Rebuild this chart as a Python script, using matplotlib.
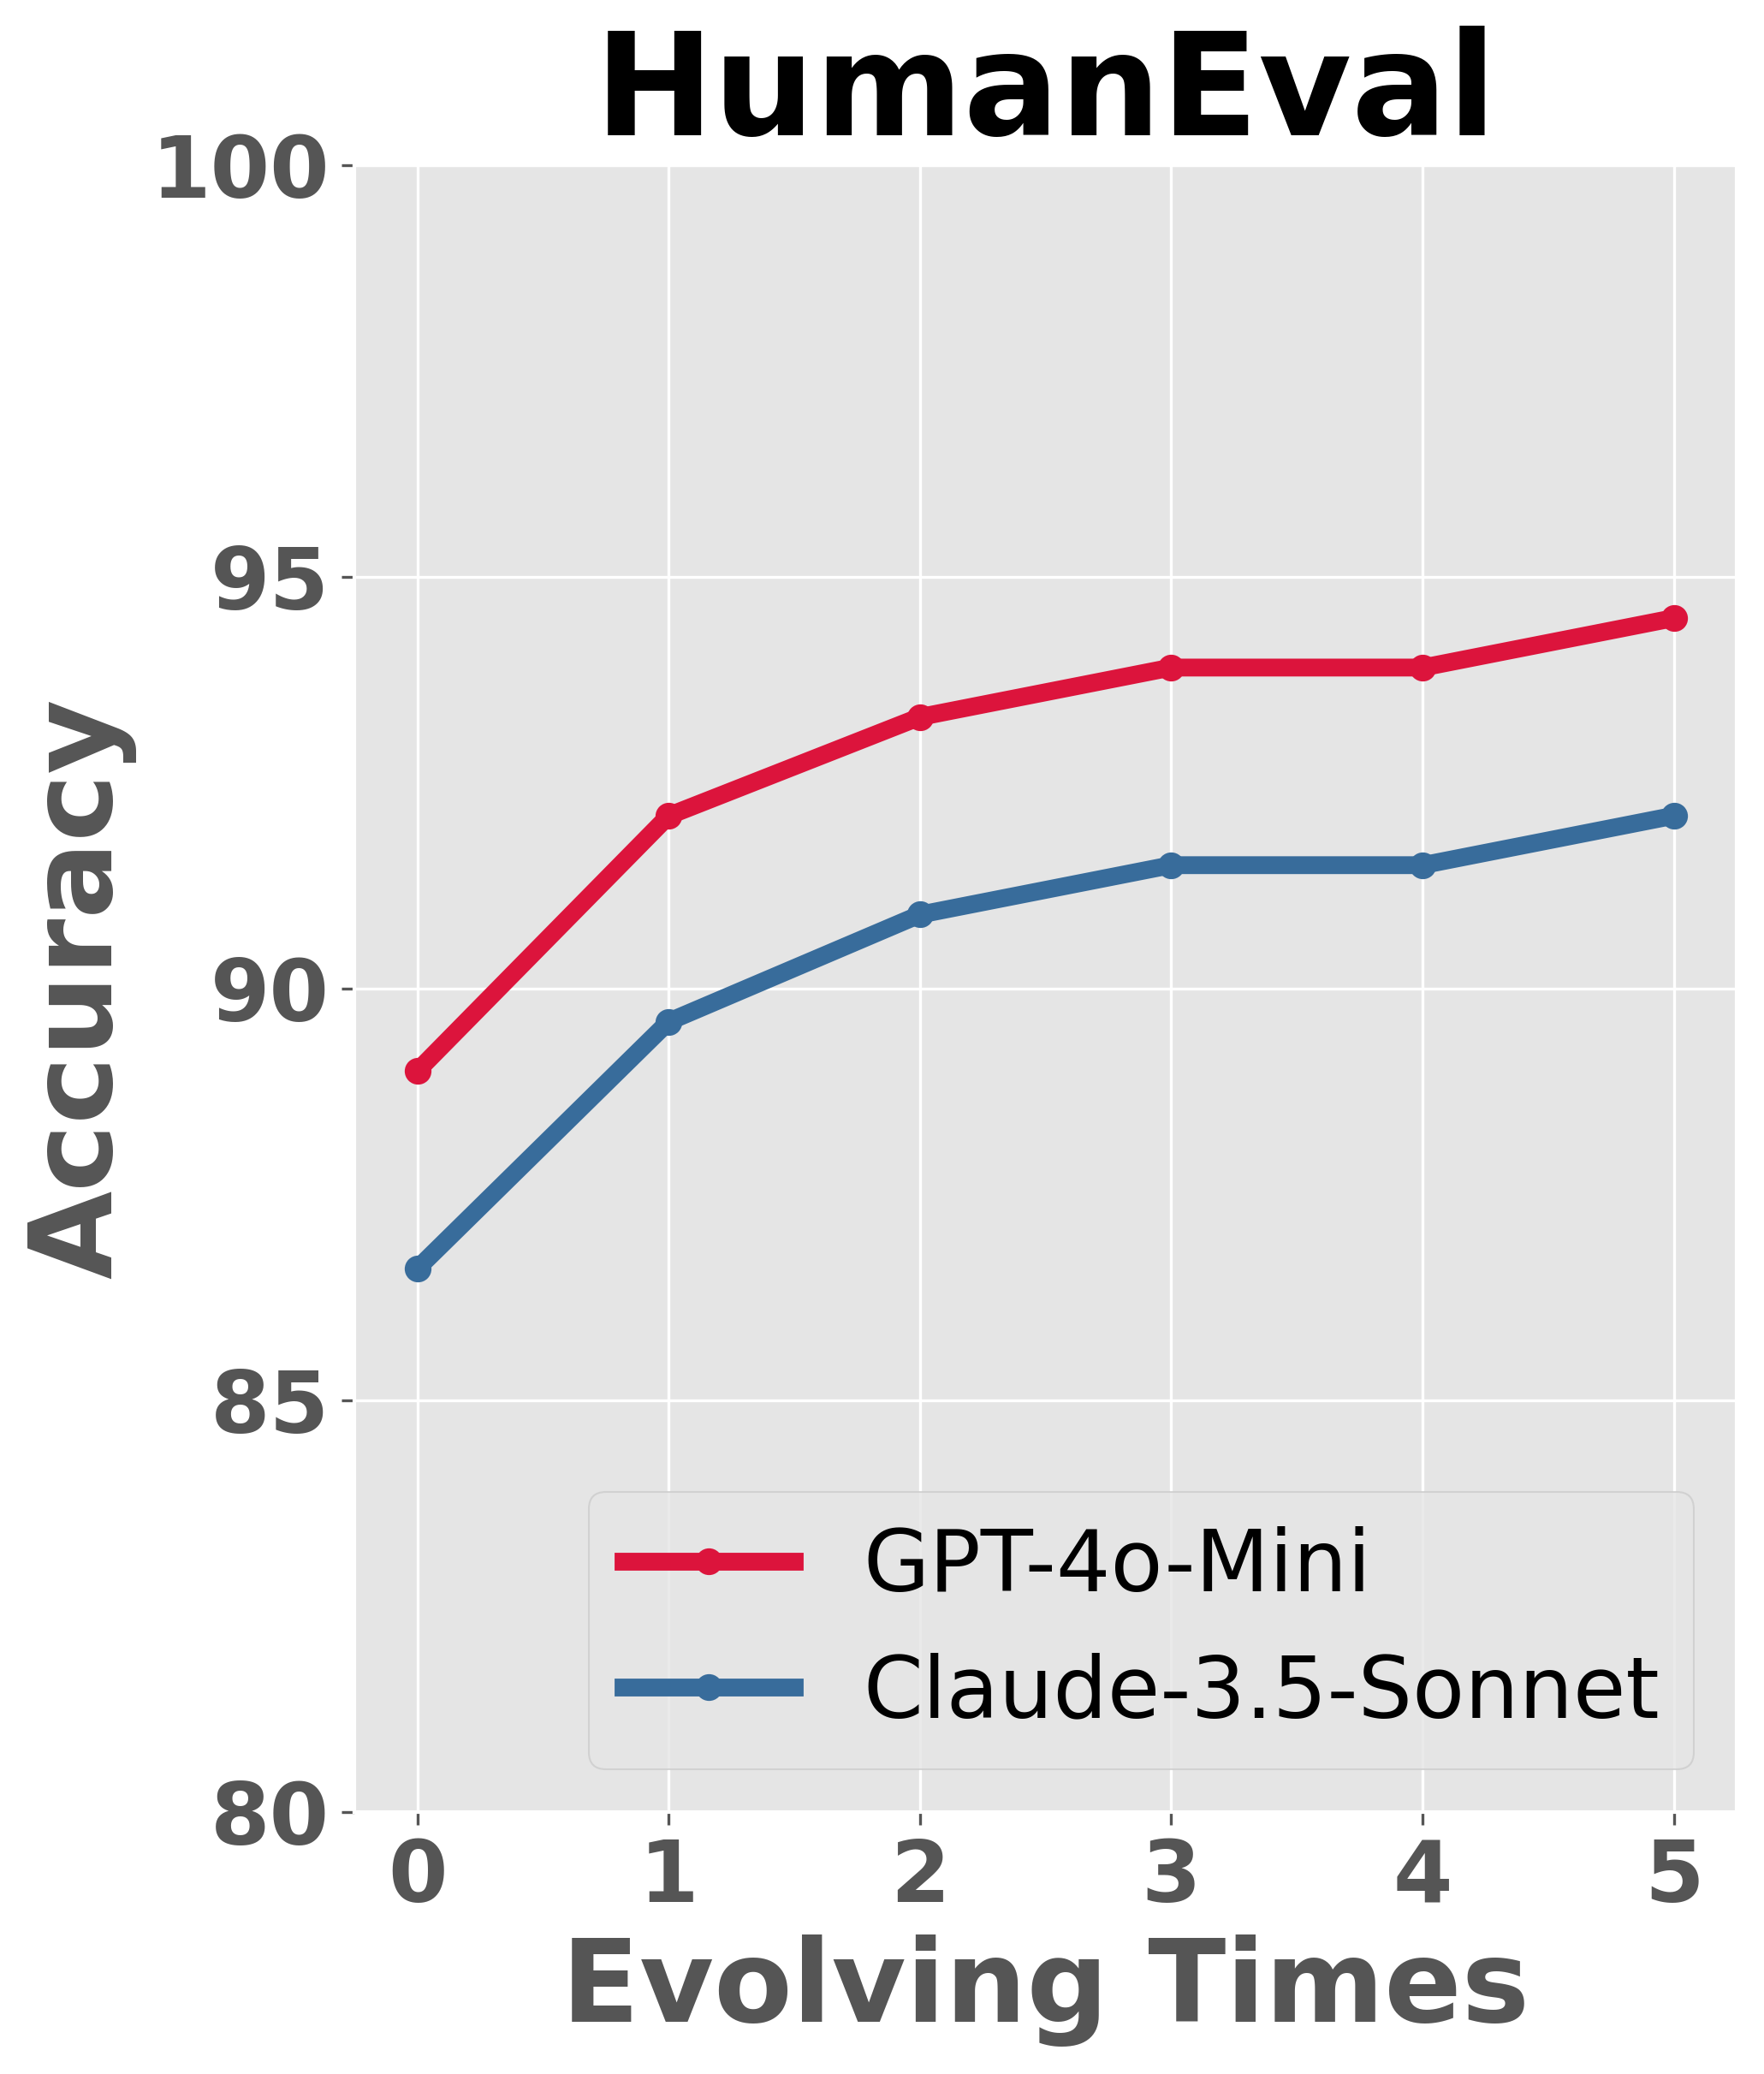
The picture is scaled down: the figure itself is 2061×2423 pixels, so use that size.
import matplotlib.pyplot as plt

plt.style.use("ggplot")

evolving_times = [0, 1, 2, 3, 4, 5]
gpt_4o_mini = [89.0, 92.1, 93.3, 93.9, 93.9, 94.5]
claude_35_sonnet = [86.6, 89.6, 90.9, 91.5, 91.5, 92.1]
y_ticks = [80, 85, 90, 95, 100]


def main():
    fig = plt.figure(figsize=(2061 / 300, 2423 / 300), dpi=300)
    fig.subplots_adjust(left=0.201, right=0.9845, bottom=0.1263, top=0.9203)
    ax = fig.add_subplot(111)

    ax.plot(evolving_times, gpt_4o_mini, color="#DC143C", linewidth=5,
            marker="o", markersize=6.5, label="GPT-4o-Mini")
    ax.plot(evolving_times, claude_35_sonnet, color="#386C9B", linewidth=5,
            marker="o", markersize=6.5, label="Claude-3.5-Sonnet")

    ax.set_ylim(80, 100)
    ax.set_yticks(y_ticks)
    ax.set_xticks(evolving_times)
    ax.tick_params(axis="both", labelsize=24, colors="#555555")
    for lbl in ax.get_xticklabels() + ax.get_yticklabels():
        lbl.set_fontweight("bold")

    ax.set_xlabel("Evolving Times", fontsize=32, fontweight="bold", color="#555555")
    ax.set_ylabel("Accuracy", fontsize=32, fontweight="bold", color="#555555")
    ax.set_title("HumanEval", fontsize=40, fontweight="bold", color="black", pad=8)

    leg = ax.legend(loc="lower right", fontsize=24)
    for t in leg.get_texts():
        t.set_color("black")

    fig.savefig("out.png", dpi=300)
    plt.close(fig)


if __name__ == "__main__":
    main()
